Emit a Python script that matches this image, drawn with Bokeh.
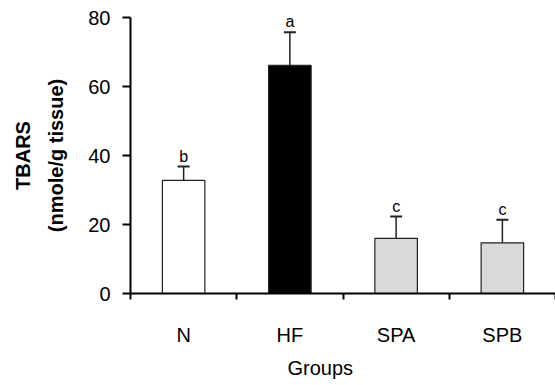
from bokeh.plotting import figure
from bokeh.models import ColumnDataSource, Range1d, FixedTicker, Whisker, Title, TeeHead
from bokeh.core.properties import value
from bokeh.embed import file_html
from bokeh.resources import INLINE

groups = ["N", "HF", "SPA", "SPB"]
means = [32.8, 66.1, 16.0, 14.7]
errors = [4.0, 9.6, 6.3, 6.7]
letters = ["b", "a", "c", "c"]
fills = ["white", "black", "#d9d9d9", "#d9d9d9"]
y_ticks = [0, 20, 40, 60, 80]

xs = [i + 0.5 for i in range(len(groups))]
upper = [m + e for m, e in zip(means, errors)]
src = ColumnDataSource(dict(x=xs, top=means, upper=upper, fill=fills, letter=letters))

FONT = "Liberation Sans"

p = figure(width=555, height=385, output_backend="svg", toolbar_location=None,
           x_range=Range1d(0, 4), y_range=Range1d(0, 80),
           min_border_left=130, min_border_right=0, min_border_top=17, min_border_bottom=92)
p.grid.visible = False
p.outline_line_color = None

p.vbar(x="x", top="top", width=0.4, bottom=0, source=src, fill_color="fill",
       line_color="#222222", line_width=1.2)

w = Whisker(base="x", upper="upper", lower="top", source=src, line_color="#222222", line_width=1.5,
            upper_head=TeeHead(size=12, line_color="#222222", line_width=2), lower_head=None)
p.add_layout(w)

p.text(x="x", y="upper", text="letter", source=src, text_align="center", text_baseline="bottom",
       y_offset=-2, text_font=value(FONT), text_font_size="16px", text_color="black")

# x axis
xa = p.xaxis[0]
xa.ticker = FixedTicker(ticks=xs, minor_ticks=[0, 1, 2, 3, 4])
xa.major_label_overrides = {x: g for x, g in zip(xs, groups)}
xa.major_tick_out = 0
xa.major_tick_in = 0
xa.minor_tick_out = 6
xa.minor_tick_in = 0
xa.minor_tick_line_width = 2
xa.minor_tick_line_color = "black"
xa.axis_line_width = 2
xa.axis_line_color = "black"
xa.major_label_standoff = 24
xa.major_label_text_font = FONT
xa.major_label_text_font_size = "20px"
xa.major_label_text_color = "black"

# y axis
ya = p.yaxis[0]
ya.ticker = FixedTicker(ticks=y_ticks, minor_ticks=[])
ya.major_tick_out = 8
ya.major_tick_in = 0
ya.major_tick_line_width = 2
ya.major_tick_line_color = "black"
ya.axis_line_width = 2
ya.axis_line_color = "black"
ya.major_label_standoff = 12
ya.major_label_text_font = FONT
ya.major_label_text_font_size = "20px"
ya.major_label_text_color = "black"
ya.axis_label = "(nmole/g tissue)"
ya.axis_label_standoff = 18
ya.axis_label_text_font = FONT
ya.axis_label_text_font_size = "20px"
ya.axis_label_text_font_style = "bold"
ya.axis_label_text_color = "black"

p.add_layout(Title(text="TBARS", align="center", text_font=FONT, text_font_size="20px",
                   text_font_style="bold", text_color="black", standoff=17), "left")
p.add_layout(Title(text="Groups", align="left", offset=157, text_font=FONT, text_font_size="20px",
                   text_font_style="normal", text_color="black", standoff=13), "below")

open("out.html", "w").write(file_html(p, INLINE))
